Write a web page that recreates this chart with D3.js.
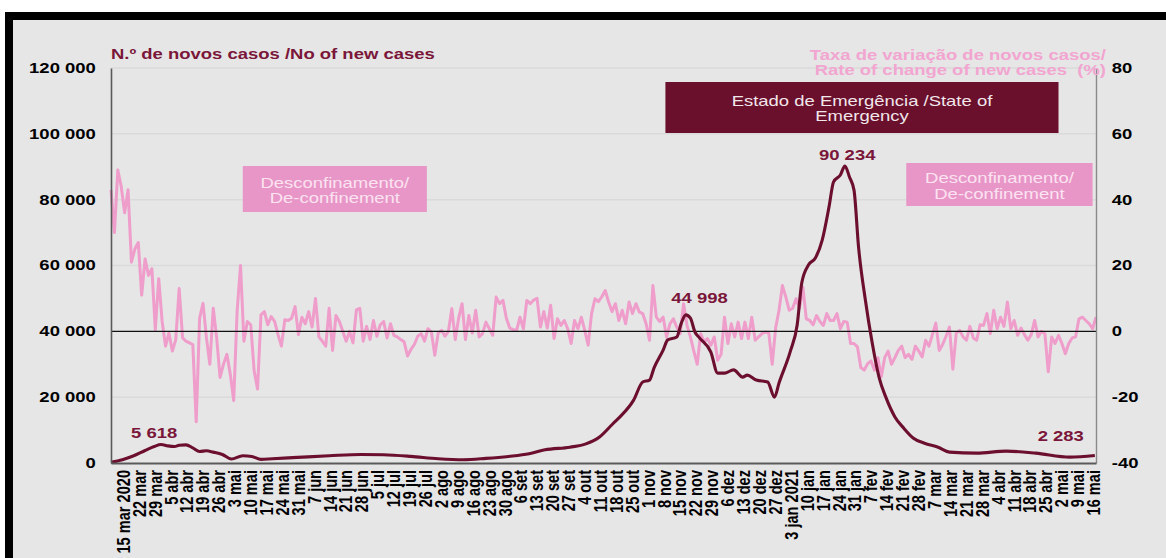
<!DOCTYPE html>
<html><head><meta charset="utf-8">
<script src="https://cdn.jsdelivr.net/npm/d3@7"></script>
<style>
html,body{margin:0;padding:0;background:#fff;}
svg{display:block;font-family:"Liberation Sans",Arial,sans-serif;}
</style>
</head><body>
<svg id="chart" width="1166" height="558"></svg>
<script>
// ---------------- DATA ----------------
const domainStart = "2020-03-10T00:00";
const domainEnd = "2021-05-17T12:00";
const leftTicks = [0, 20000, 40000, 60000, 80000, 100000, 120000];
const rightTicks = [-40, -20, 0, 20, 40, 60, 80];
const weekTickFirst = "2020-03-15T00:00";
const weekTickLast = "2021-05-16T00:00";
const monthNames = ["jan","fev","mar","abr","mai","jun","jul","ago","set","out","nov","dez"];

// 7-day new cases (left axis)
const caseDates = [
"2020-03-10","2020-03-15","2020-03-20","2020-03-25","2020-03-29","2020-04-01","2020-04-04","2020-04-07","2020-04-09","2020-04-12",
"2020-04-15","2020-04-18","2020-04-21","2020-04-24","2020-04-28","2020-05-02","2020-05-07","2020-05-11","2020-05-15","2020-05-20",
"2020-05-31","2020-06-14","2020-06-28","2020-07-08","2020-07-20","2020-08-01","2020-08-12","2020-08-22","2020-09-01","2020-09-10",
"2020-09-17","2020-09-28","2020-10-05","2020-10-11","2020-10-17","2020-10-20","2020-10-26","2020-10-30","2020-11-02","2020-11-04",
"2020-11-08","2020-11-10","2020-11-14","2020-11-16","2020-11-18","2020-11-20","2020-11-22","2020-11-24","2020-11-29","2020-12-02",
"2020-12-05","2020-12-09","2020-12-13","2020-12-15","2020-12-19","2020-12-24","2020-12-27","2020-12-29","2021-01-03","2021-01-06",
"2021-01-08","2021-01-11","2021-01-14","2021-01-17","2021-01-20","2021-01-22","2021-01-25","2021-01-27","2021-01-29","2021-01-31",
"2021-02-02","2021-02-05","2021-02-08","2021-02-11","2021-02-14","2021-02-18","2021-02-22","2021-02-26","2021-03-03","2021-03-09",
"2021-03-14","2021-03-26","2021-04-08","2021-04-21","2021-05-06","2021-05-17"
];
const caseValues = [
200,1000,2200,3800,5000,5618,5200,5000,5400,5500,
4600,3500,3700,3300,2600,1200,2200,2000,1100,1300,
1700,2200,2600,2500,2000,1300,1000,1400,2000,2800,
4000,4800,5800,7900,12000,14000,19100,24600,25200,28900,
34300,37400,38300,42500,44998,44000,39800,38000,33700,27300,
27300,28300,26100,26700,25200,24600,20000,24300,34000,42000,
54700,60200,62300,67700,77800,85400,87500,90234,86900,82900,
65600,49500,36500,26100,20000,14000,10500,7600,6000,4800,
3300,3000,3600,3000,1800,2283
];

// Rate of change of new cases (%) (right axis), one value every 36 hours from rateStart
const rateStart = "2020-03-10T00:00";
const rateStepHours = 36;
const rateValues = [
43,30,49,44,36,43,21,25,27,11,
22,17,19,0.5,16,3,-4.5,-0.5,-6,-2.5,
13,-2,-3,-3.5,-4,-27.5,4,8.5,-2,-10,
7,-2,-14,-10,-7,-13,-21,6,20,-3,
3,2,-12,-17.5,5,6,2,4.5,3,-1,
-4.5,3.5,3.3,4,7.5,-1,4.3,2.3,6,1.3,
10,-1.7,-3,-4.5,7,-5.8,4.8,3,0,-3,
0,-3.5,6.5,7,-3,1.5,-2.5,3.3,-1.5,2,
3,-2,2.3,-1.2,-1.7,-2.5,-3.2,-7.5,-5.5,-4,
-1.5,-0.7,-3,0.8,-0.2,-7.3,-0.5,0.3,-1.5,0,
6.9,-2.5,4,8.4,-2.5,4.8,-0.5,6.4,-1.7,-0.7,
2.8,0.8,-1.2,10.4,8.4,9.4,4,1,0.5,0.3,
4.3,0.8,9.4,8.4,9.5,10,1.3,6,1,7.9,
-2.2,3.8,1.8,3.3,0.8,-3.7,3.3,0.8,4.3,0.3,
-4.2,5.4,9.9,9,10.5,12.4,8.9,6,8.4,3.3,
6.4,2.3,8.9,5.4,8.4,5.9,5.4,2.3,-2.7,13.9,
4.3,3,4.3,-1.7,2.3,3.8,1.3,-0.7,8.4,1.8,
-1.7,-6,-10,-0.7,-3.2,-2.2,-4.2,-1.7,-8.8,-7,
4.3,-3.7,2.3,-1.7,2.8,-2.2,2.8,-2.2,4.3,-2.7,
-1.7,-0.7,-0.2,-0.5,-10,1,6.4,13.9,10.4,6.4,
7,9.9,7,13.4,3.8,3.3,2,4.8,3,1.8,
5.4,3.3,3.3,5.4,0.8,3,2.8,-3.7,-3.7,-4.7,
-11,-11.8,-9.8,-9,-11.8,-8,-13.8,-8,-6,-10,
-8,-5.8,-4.5,-8,-7,-8.5,-4.5,-6,-7.8,-2.7,
-4.5,-1,2.5,-5.8,-4,-1.5,1.3,-11.5,-0.5,0.3,
-1.7,-2.7,1.5,-2,-2.7,2,1.8,5.4,-0.7,6.4,
0.8,4.3,1.5,8.9,0.8,3.3,-1.2,1,-1,-2.7,
-1,3.3,-1.7,0,-0.7,-12.3,-1.7,-3.7,-1.2,-3.7,
-6.8,-3.7,-2,-1.7,3.8,4.3,3.3,2.3,0.8,4.3
];

// value labels on the cases line
const peakLabelDates = ["2020-03-29","2020-11-24","2021-01-28","2021-05-02"];
const peakLabelValues = [5618, 44998, 90234, 2283];

// period boxes
const periodNames = [["Desconfinamento/","De-confinement"],["Estado de Emergência /State of","Emergency"],["Desconfinamento/","De-confinement"]];
const periodStarts = ["2020-05-07","2020-11-09","2021-02-23"];
const periodEnds = ["2020-07-27","2021-05-01","2021-05-16"];

const leftTitle = "N.º de novos casos /No of new cases";
const rightTitle = ["Taxa de variação de novos casos/","Rate of change of new cases  (%)"];

// ---------------- STYLE / LAYOUT ----------------
const W = 1166, H = 558;
const M = {left:111, right:1096, top:68, bottom:463};
const SX = 1.32;           // horizontal stretch of the original rendering
const FS = 14;
const C = {
  bg:"#e6e6e6", grid:"#dadada", maroon:"#6c0f2f", maroonText:"#7a1639",
  pink:"#ef9dcb", pinkBox:"#e896c8", pinkBoxText:"#fbe3f0", pinkTitle:"#f2a5d0",
  emerg:"#6a0f2c", emergText:"#f1e6ea", axis:"#5a5a5a"
};

const parse = s => new Date(s.length > 10 ? s : s + "T00:00");
const loc = d3.formatLocale({decimal:",", thousands:" ", grouping:[3], currency:["",""], minus:"-"});
const fmtN = loc.format(",");

const svg = d3.select("#chart");

// frame + background
svg.append("rect").attr("x",0).attr("y",0).attr("width",W).attr("height",H).attr("fill","#fff");
svg.append("rect").attr("x",5).attr("y",12).attr("width",W-5).attr("height",H-12).attr("fill","#000");
svg.append("rect").attr("x",13).attr("y",20).attr("width",W-13).attr("height",H-20).attr("fill",C.bg);

const x = d3.scaleTime().domain([parse(domainStart), parse(domainEnd)]).range([M.left, M.right]);
const yL = d3.scaleLinear().domain([0,120000]).range([M.bottom, M.top]);
const yR = d3.scaleLinear().domain([-40,80]).range([M.bottom, M.top]);

// gridlines
svg.append("g").selectAll("line").data(leftTicks.filter(v => v !== 0 && v !== 40000)).join("line")
  .attr("x1", M.left).attr("x2", M.right).attr("y1", d => yL(d)).attr("y2", d => yL(d))
  .attr("stroke", C.grid).attr("stroke-width", 1.5);

// period boxes
const boxY = [[166,212],[82,133],[163,206]];
const boxFill = [C.pinkBox, C.emerg, C.pinkBox];
const boxText = [C.pinkBoxText, C.emergText, C.pinkBoxText];
const lineBase = [[188,203],[106,121],[183,199]];
periodNames.forEach((lines, i) => {
  const x0 = x(parse(periodStarts[i])), x1 = x(parse(periodEnds[i]));
  svg.append("rect").attr("x", x0).attr("y", boxY[i][0]).attr("width", x1 - x0).attr("height", boxY[i][1] - boxY[i][0]).attr("fill", boxFill[i]);
  lines.forEach((t, j) => {
    svg.append("text").attr("transform", `translate(${(x0+x1)/2},${lineBase[i][j]}) scale(${SX},1)`)
      .attr("text-anchor","middle").attr("font-size", FS).attr("fill", boxText[i]).text(t);
  });
});

// rate line (pink)
const t0 = parse(rateStart).getTime();
const rateData = rateValues.map((v, i) => ({d: new Date(t0 + i * rateStepHours * 3600e3), v}));
svg.append("path").datum(rateData)
  .attr("d", d3.line().x(d => x(d.d)).y(d => yR(d.v)))
  .attr("fill","none").attr("stroke", C.pink).attr("stroke-width", 3).attr("stroke-linejoin","round");

// zero line of right axis
svg.append("line").attr("x1", M.left).attr("x2", M.right).attr("y1", yR(0)).attr("y2", yR(0))
  .attr("stroke","#111").attr("stroke-width",1.3);

// cases line (maroon)
const caseData = caseDates.map((d, i) => ({d: parse(d), v: caseValues[i]}));
svg.append("path").datum(caseData)
  .attr("d", d3.line().curve(d3.curveMonotoneX).x(d => x(d.d)).y(d => yL(d.v)))
  .attr("fill","none").attr("stroke", C.maroon).attr("stroke-width", 3.1).attr("stroke-linejoin","round");

// axes
const gL = svg.append("g").attr("transform", `translate(${M.left},0)`)
  .call(d3.axisLeft(yL).tickValues(leftTicks).tickFormat(fmtN).tickSize(0).tickPadding(11.5));
gL.select(".domain").attr("stroke", C.axis).attr("stroke-width", 1.6);
gL.selectAll("text").attr("font-size", FS).attr("font-weight","bold").attr("fill","#000")
  .attr("font-family","Liberation Sans, Arial, sans-serif").attr("transform", `scale(${SX},1)`);

const gR = svg.append("g").attr("transform", `translate(${M.right},0)`)
  .call(d3.axisRight(yR).tickValues(rightTicks).tickFormat(loc.format("d")).tickSize(0).tickPadding(12));
gR.select(".domain").attr("stroke", "#8a8a8a").attr("stroke-width", 1.4);
gR.selectAll("text").attr("font-size", FS).attr("font-weight","bold").attr("fill","#000")
  .attr("font-family","Liberation Sans, Arial, sans-serif").attr("transform", `scale(${SX},1)`);

const weekDates = [];
for (let d = parse(weekTickFirst); d <= parse(weekTickLast); d = d3.timeDay.offset(d, 7)) weekDates.push(d);
const firstOf2021 = weekDates.find(d => d.getFullYear() === 2021);
const fmtWeek = (d, i) => {
  const base = `${d.getDate()} ${monthNames[d.getMonth()]}`;
  return (i === 0 || d === firstOf2021) ? `${base} ${d.getFullYear()}` : base;
};
const gB = svg.append("g").attr("transform", `translate(0,${M.bottom})`)
  .call(d3.axisBottom(x).tickValues(weekDates).tickFormat(fmtWeek).tickSize(0));
gB.select(".domain").attr("stroke", C.axis).attr("stroke-width", 2.2);
gB.selectAll("text").attr("font-size", 14.6).attr("font-weight","bold").attr("fill","#000")
  .attr("font-family","Liberation Sans, Arial, sans-serif")
  .attr("text-anchor","end").attr("x",-7).attr("y",0).attr("dy","0.36em")
  .attr("transform", `scale(${SX},1) rotate(-90)`);

// value labels
peakLabelDates.forEach((d, i) => {
  const dy = [-6.5, -12, -6, -14.5][i];
  svg.append("text").attr("transform", `translate(${x(parse(d))},${yL(peakLabelValues[i]) + dy}) scale(${SX},1)`)
    .attr("text-anchor","middle").attr("font-size", FS).attr("font-weight","bold")
    .attr("fill", C.maroonText).text(fmtN(peakLabelValues[i]));
});

// titles
svg.append("text").attr("transform", `translate(${M.left},59) scale(${SX},1)`)
  .attr("font-size", FS).attr("font-weight","bold").attr("fill", C.maroonText).text(leftTitle);
rightTitle.forEach((t, j) => {
  svg.append("text").attr("transform", `translate(1106,${60 + j*15}) scale(${SX},1)`)
    .attr("text-anchor","end").attr("font-size", FS).attr("font-weight","bold").attr("fill", C.pinkTitle)
    .attr("xml:space","preserve").style("white-space","pre").text(t);
});
</script>
</body></html>
